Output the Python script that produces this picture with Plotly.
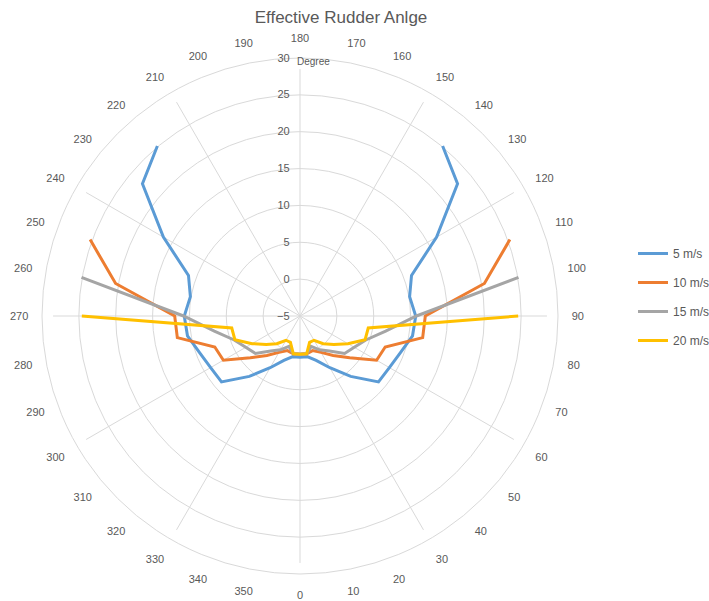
import plotly.graph_objects as go

# ---- data (angle in degrees, 0 at bottom, counterclockwise) ----
angles = list(range(0, 360, 10))
tick_labels = [str(a) for a in angles]
series_names = ["5 m/s", "10 m/s", "15 m/s", "20 m/s"]

N = None
v5 = [0.6, 0.6, 1.4, 3.1, 5.7, 8.9, 9.0, 9.5, 10.5, 10.7, 10.1, 11.1, 16.4, 22.9, 25.1,
      N, N, N, N, N, N, N,
      25.1, 22.9, 16.4, 11.1, 10.1, 10.7, 10.5, 9.5, 9.0, 8.9, 5.7, 3.1, 1.4, 0.6]
v10 = [0.2, 0.2, 0.0, 0.7, 2.0, 3.8, 7.0, 7.3, 11.9, 12.0, 20.4, 25.3,
       N, N, N, N, N, N, N, N, N, N, N, N, N,
       25.3, 20.4, 12.0, 11.9, 7.3, 7.0, 3.8, 2.0, 0.7, 0.0, 0.2]
v15 = [0.2, 0.2, -0.6, 0.3, 1.2, 2.9, 3.5, 4.5, 6.8, 10.8, 25.1,
       N, N, N, N, N, N, N, N, N, N, N, N, N, N, N,
       25.1, 10.8, 6.8, 4.5, 3.5, 2.9, 1.2, 0.3, -0.6, 0.2]
v20 = [0.2, 0.2, -1.2, -1.2, -0.1, 1.0, 2.5, 4.4, 4.4, 24.6,
       N, N, N, N, N, N, N, N, N, N, N, N, N, N, N, N, N,
       24.6, 4.4, 4.4, 2.5, 1.0, -0.1, -1.2, -1.2, 0.2]
series_values = [v5, v10, v15, v20]
colors = ["#5B9BD5", "#ED7D31", "#A5A5A5", "#FFC000"]

radial_min, radial_max, radial_step = -5, 30, 5
spoke_end = 28.5  # spokes stop a little short of the outer ring

W, H = 709, 601
cx, cy, R = 300, 316, 258
GRID = "#D9D9D9"
TXT = "#595959"
FONT = "Liberation Sans, Arial, sans-serif"

fig = go.Figure()

# empty trace so the spoke-only subplot is drawn underneath
fig.add_trace(go.Scatterpolar(r=[], theta=[], subplot="polar", showlegend=False,
                              hoverinfo="skip"))

# start each line inside its gap (at 180) so 350 -> 0 is connected
k = len(angles) // 2
theta_order = angles[k:] + angles[:k]
for name, vals, col in zip(series_names, series_values, colors):
    fig.add_trace(go.Scatterpolar(
        r=vals[k:] + vals[:k], theta=theta_order, name=name, mode="lines",
        line=dict(color=col, width=3), subplot="polar2",
        legendgroup=name, connectgaps=False))

rs = R * (spoke_end - radial_min) / (radial_max - radial_min)
fig.update_layout(
    width=W, height=H,
    margin=dict(l=0, r=0, t=0, b=0, autoexpand=False),
    paper_bgcolor="white", plot_bgcolor="white",
    font=dict(family=FONT, color=TXT, size=11),
    title=dict(text="Effective Rudder Anlge", x=341 / W, y=1 - 17 / H,
               xanchor="center", yanchor="middle",
               font=dict(size=17, color=TXT, family=FONT)),
    polar=dict(
        domain=dict(x=[(cx - rs) / W, (cx + rs) / W],
                    y=[(H - cy - rs) / H, (H - cy + rs) / H]),
        bgcolor="rgba(0,0,0,0)",
        radialaxis=dict(range=[0, 1], showgrid=False, showticklabels=False,
                        showline=False, ticks=""),
        angularaxis=dict(rotation=270, direction="counterclockwise",
                         dtick=30, tick0=0, showgrid=True, gridcolor=GRID,
                         gridwidth=1, showticklabels=False, showline=False,
                         ticks=""),
    ),
    polar2=dict(
        domain=dict(x=[(cx - R) / W, (cx + R) / W],
                    y=[(H - cy - R) / H, (H - cy + R) / H]),
        bgcolor="rgba(0,0,0,0)",
        radialaxis=dict(range=[radial_min, radial_max], dtick=radial_step,
                        tick0=radial_min, angle=90, side="counterclockwise",
                        showgrid=True, gridcolor=GRID, gridwidth=1,
                        showline=False, ticks="outside", ticklen=6,
                        tickcolor="rgba(0,0,0,0)", tickangle=90,
                        tickfont=dict(size=11, color=TXT)),
        angularaxis=dict(rotation=270, direction="counterclockwise",
                         tickmode="array", tickvals=angles, ticktext=tick_labels,
                         showgrid=False, showline=True, linecolor=GRID,
                         linewidth=1, ticks="outside", ticklen=11,
                         tickcolor="rgba(0,0,0,0)",
                         tickfont=dict(size=11, color=TXT)),
    ),
    legend=dict(x=633 / W, y=1 - 239 / H, xanchor="left", yanchor="top",
                tracegroupgap=10, font=dict(size=12, color=TXT),
                bgcolor="rgba(0,0,0,0)"),
    annotations=[dict(text="Degree", x=313 / W, y=1 - 61 / H, xref="paper",
                      yref="paper", xanchor="center", yanchor="middle",
                      showarrow=False, font=dict(size=10, color=TXT))],
)

fig.write_html("out.html",
               config={"displayModeBar": False},
               post_script="document.body.style.margin='0px';"
                           "document.body.style.overflow='hidden';")
